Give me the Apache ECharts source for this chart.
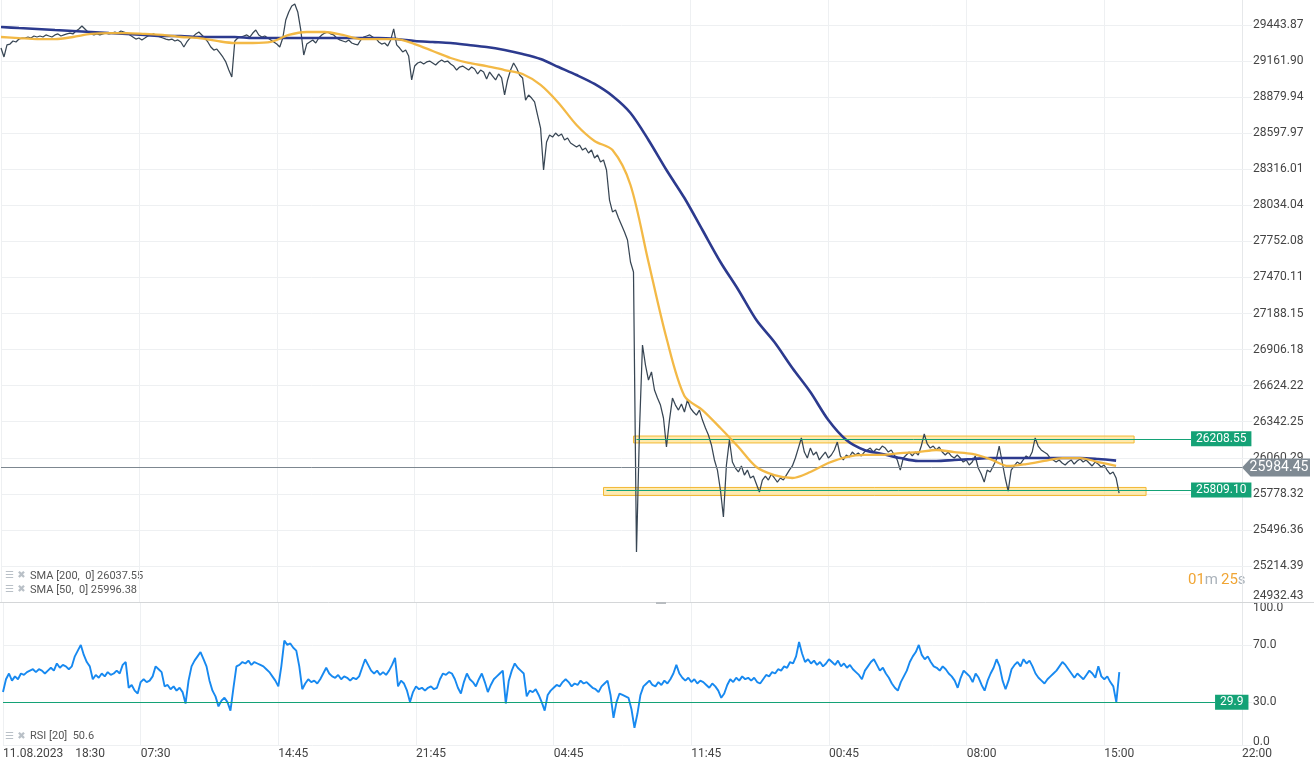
<!DOCTYPE html>
<html><head><meta charset="utf-8">
<script src="https://cdn.jsdelivr.net/npm/echarts@6/dist/echarts.min.js"></script>
<style>html,body{margin:0;padding:0;background:#fff}#c{width:1314px;height:770px}</style>
</head><body><div id="c"></div>
<script>
// ---- tick labels ----
const priceTicks = [24932.43,25214.39,25496.36,25778.32,26060.29,26342.25,26624.22,26906.18,27188.15,27470.11,27752.08,28034.04,28316.01,28597.97,28879.94,29161.90,29443.87];
const rsiTicks = [0,30,70,100];
const xTickLabels = ['11.08.2023    18:30','07:30','14:45','21:45','04:45','11:45','00:45','08:00','15:00','22:00'];
const barsPerTick = 46;
const barCount = 415;
const smaStep = 6;

// ---- price (close, one value per bar) ----
const price = [29264,29194,29288,29295,29319,29311,29334,29342,29342,29350,
29342,29358,29350,29358,29350,29366,29358,29350,29366,29374,
29358,29366,29374,29381,29374,29397,29413,29436,29413,29389,
29374,29366,29374,29366,29374,29381,29374,29381,29389,29381,
29397,29389,29381,29366,29350,29334,29342,29327,29342,29358,
29366,29374,29358,29350,29342,29334,29327,29334,29319,29327,
29311,29272,29311,29342,29350,29374,29389,29366,29342,29311,
29272,29248,29256,29225,29194,29155,29092,29037,29319,29342,
29350,29358,29366,29350,29381,29405,29366,29350,29358,29342,
29327,29311,29295,29272,29342,29483,29546,29592,29608,29546,
29405,29209,29295,29311,29327,29303,29342,29366,29381,29389,
29374,29366,29342,29327,29319,29311,29327,29303,29295,29288,
29327,29350,29358,29366,29350,29342,29311,29295,29303,29280,
29327,29413,29288,29264,29233,29248,29201,29014,29123,29147,
29155,29139,29155,29162,29147,29131,29155,29170,29155,29162,
29139,29123,29092,29115,29123,29108,29092,29115,29100,29061,
29092,29076,29022,29076,29045,29014,29061,29030,28897,29014,
29092,29147,29108,29053,29030,28857,28897,28873,28842,28740,
28638,28310,28529,28584,28568,28599,28576,28592,28545,28560,
28521,28506,28490,28506,28466,28482,28443,28466,28404,28427,
28373,28388,28310,28075,27982,27997,27935,27880,27825,27763,
27591,27513,25323,26277,26942,26785,26668,26731,26590,26527,
26472,26371,26144,26355,26527,26472,26433,26480,26418,26512,
26449,26418,26394,26433,26355,26293,26238,26160,26043,25964,
25808,25597,26004,26199,26027,25980,25949,25996,25925,25964,
25902,25917,25855,25792,25886,25917,25886,25933,25902,25870,
25902,25886,25925,25964,25996,26058,26136,26215,26105,26058,
26136,26082,26105,26043,26074,26105,26058,26082,26121,26183,
26074,26043,26082,26066,26105,26082,26097,26074,26105,26121,
26136,26105,26129,26121,26152,26136,26105,26121,26082,26043,
25964,26058,26082,26105,26074,26105,26082,26152,26246,26168,
26136,26152,26121,26144,26105,26082,26105,26074,26058,26082,
26058,26027,26043,26004,26027,26074,25980,25933,25870,25964,
25949,25996,26043,26152,26027,25902,25800,25964,25996,26027,
26011,26043,26074,26058,26105,26215,26152,26121,26105,26090,
26058,26043,26027,26043,26019,26004,26027,26043,26011,26035,
26050,26027,26043,26019,25996,26027,26011,25988,26004,25964,
25933,25949,25902,25784];

// ---- SMA 200 / SMA 50 (one value every 6 bars) ----
const sma200 = [29428,29420,29413,29405,29397,29389,29381,29374,29366,29358,
29358,29350,29350,29350,29342,29342,29342,29342,29342,29342,
29342,29342,29334,29319,29311,29303,29288,29272,29248,29217,
29178,29115,29053,28983,28889,28756,28545,28310,28091,27841,
27591,27372,27137,26965,26762,26574,26355,26199,26121,26090,
26058,26035,26035,26043,26050,26058,26058,26058,26058,26058,
26058,26050,26037.55];
const sma50 = [29350,29342,29334,29334,29350,29374,29381,29381,29374,29366,
29350,29342,29319,29303,29303,29311,29366,29389,29389,29366,
29334,29334,29334,29295,29241,29186,29147,29123,29092,29061,
28975,28834,28662,28537,28466,28193,27591,26996,26543,26433,
26293,26144,25988,25925,25902,25949,26019,26066,26082,26082,
26097,26105,26121,26105,26090,26050,25996,26011,26035,26058,
26058,26027,25996.38];

// ---- RSI(20), one value per bar ----
const rsi = [37,46,50,45,48,46,50,49,51,52,
53,51,53,52,50,52,54,52,57,54,
56,55,53,55,62,66,70,63,58,55,
46,49,47,50,48,51,49,50,52,50,
56,58,40,42,38,36,44,46,44,45,
48,55,53,51,41,42,39,41,38,40,
37,29,45,55,59,62,65,60,55,45,
38,34,27,31,33,30,24,40,55,56,
58,57,59,56,58,57,56,55,53,51,
48,45,41,55,73,70,71,68,66,55,
39,43,46,44,45,43,46,50,54,50,
48,47,49,46,48,47,45,47,46,48,
54,60,56,52,50,52,49,51,49,52,
56,61,41,45,43,38,30,37,41,39,
40,38,40,41,39,40,46,50,49,51,
50,46,40,36,44,50,46,44,41,46,
50,44,37,42,46,48,50,52,29,45,
52,57,54,52,50,34,38,37,39,35,
30,24,35,38,40,42,41,44,46,44,
41,43,42,45,43,44,42,40,39,37,
41,43,45,35,19,30,36,35,34,33,
25,12,22,35,41,43,45,42,41,44,
42,45,43,46,50,56,50,47,45,47,
44,46,43,45,44,42,40,43,41,38,
33,36,42,46,44,47,45,48,46,47,
45,47,44,43,46,49,48,51,50,53,
52,55,54,58,57,62,72,64,58,60,
57,59,56,58,55,57,60,58,56,59,
55,57,54,56,53,51,49,46,52,55,
58,60,56,52,54,50,47,43,40,38,
44,48,52,58,62,65,70,63,60,62,
58,55,54,52,55,53,50,48,45,40,
47,52,50,48,44,50,47,42,38,45,
50,54,60,55,45,39,45,53,56,58,
55,60,57,59,55,50,47,45,43,46,
48,50,52,55,58,56,53,50,47,50,
48,46,49,52,50,47,55,48,46,48,
44,41,30,51];

// ---- levels / zones ----
const levelValues = [26208.55, 25809.10];
const levelStartBar = [212, 202];
const levelEndBar = [397, 397];
const zoneStartBar = [211, 201];
const zoneEndBar = [378, 382];
const zoneHigh = [26230, 25828];
const zoneLow = [26176, 25765];
const lastPrice = 25984.45;
const rsiLevel = 29.9;
const rsiLevelEndBar = 405;
const legendTexts = ['SMA [200,  0] 26037.55', 'SMA [50,  0] 25996.38', 'RSI [20]  50.6'];

const cats = Array.from({length: barCount}, (_, i) => String(i));
const green = '#14a276';
const gridColor = '#eef0f2';
const isTick = (i) => i % barsPerTick === 0;
const levelLine = {color: green, width: 1, type: 'solid'};

const chart = echarts.init(document.getElementById('c'), null, {renderer: 'canvas'});
const option = {
  animation: false,
  backgroundColor: '#fff',
  textStyle: {fontFamily: 'Roboto'},
  grid: [
    {left: 1, right: 72, top: 0, height: 602},
    {left: 1, right: 72, top: 602, height: 143}
  ],
  xAxis: [
    {type: 'category', gridIndex: 0, data: cats, boundaryGap: false,
     axisLine: {show: false}, axisTick: {show: false}, axisLabel: {show: false},
     splitLine: {show: true, interval: isTick, lineStyle: {color: gridColor, width: 1}}},
    {type: 'category', gridIndex: 1, data: cats, boundaryGap: false,
     axisLine: {show: false}, axisTick: {show: false},
     axisLabel: {show: true, interval: isTick, align: 'left', margin: 3, color: '#444', fontSize: 12, fontFamily: 'Roboto',
       formatter: (v, i) => (isTick(i) ? xTickLabels[i / barsPerTick] : '')},
     splitLine: {show: true, interval: isTick, lineStyle: {color: gridColor, width: 1}}}
  ],
  yAxis: [
    {type: 'value', gridIndex: 0, position: 'right', min: 24932.43, max: 29639.35,
     axisLine: {show: true, lineStyle: {color: '#e6e8ea'}},
     axisTick: {show: true, length: 10, customValues: priceTicks, lineStyle: {color: gridColor}},
     axisLabel: {customValues: priceTicks, margin: 11, color: '#444', fontSize: 12, fontFamily: 'Roboto',
       formatter: (v) => (Math.abs(v - priceTicks[0]) < 0.001 ? '{lo|' + v.toFixed(2) + '}' : v.toFixed(2)),
       rich: {lo: {padding: [0, 0, 12, 0], color: '#444', fontSize: 12, fontFamily: 'Roboto'}}},
     splitLine: {show: true, lineStyle: {color: gridColor}}},
    {type: 'value', gridIndex: 1, position: 'right', min: 0, max: 100,
     axisLine: {show: true, lineStyle: {color: '#e6e8ea'}},
     axisTick: {show: true, length: 10, customValues: rsiTicks, lineStyle: {color: gridColor}},
     axisLabel: {customValues: rsiTicks, margin: 11, color: '#444', fontSize: 12, fontFamily: 'Roboto',
       formatter: (v) => (v === 100 ? '{top|100.0}' : v === 0 ? '{bot|0.0}' : v.toFixed(1)),
       rich: {top: {padding: [12, 0, 0, 0], color: '#444', fontSize: 12, fontFamily: 'Roboto'},
              bot: {padding: [0, 0, 6, 0], color: '#444', fontSize: 12, fontFamily: 'Roboto'}}},
     splitLine: {show: true, lineStyle: {color: gridColor}}}
  ],
  series: [
    {name: 'price', type: 'line', xAxisIndex: 0, yAxisIndex: 0, data: price, showSymbol: false, symbol: 'none',
     sampling: null, lineStyle: {color: '#384654', width: 1.25}, z: 3,
     markArea: {silent: true, z: 1,
       itemStyle: {color: 'rgba(253,216,110,0.55)', borderColor: '#f2b935', borderWidth: 1},
       data: levelValues.map((lv, k) => [{xAxis: zoneStartBar[k], yAxis: zoneHigh[k]}, {xAxis: zoneEndBar[k], yAxis: zoneLow[k]}])},
     markLine: {silent: true, symbol: ['none', 'none'], animation: false,
       lineStyle: levelLine,
       label: {show: true, position: 'end', distance: 0, backgroundColor: green, color: '#fff', padding: [2, 5, 1, 5], fontSize: 12, fontFamily: 'Roboto'},
       data: levelValues.map((lv, k) => [
         {coord: [levelStartBar[k], lv], lineStyle: levelLine, label: {formatter: lv.toFixed(2)}},
         {coord: [levelEndBar[k], lv], lineStyle: levelLine}
       ]).concat([[{coord: [0, lastPrice], lineStyle: {color: '#7d8790', width: 1, type: 'solid'}, label: {show: false}},
                   {coord: [barCount - 1, lastPrice], lineStyle: {color: '#7d8790', width: 1, type: 'solid'}, label: {show: false}}]])
     },
     markPoint: {silent: true, animation: false,
       data: [{coord: [barCount - 1, lastPrice], symbol: 'path://M0,9L9,0L72,0L72,18L9,18Z', symbolSize: [68, 18], symbolOffset: [34, 0],
         symbolKeepAspect: false, itemStyle: {color: '#7f8a93'},
         label: {show: true, position: 'inside', formatter: lastPrice.toFixed(2), color: '#fff', fontSize: 14, fontFamily: 'Roboto', offset: [3, 0]}}]}
    },
    {name: 'SMA 200', type: 'line', xAxisIndex: 0, yAxisIndex: 0, data: sma200.map((v, k) => [k * smaStep, v]),
     showSymbol: false, symbol: 'none', smooth: 0.3, lineStyle: {color: '#2c3a8e', width: 2.6}, z: 4},
    {name: 'SMA 50', type: 'line', xAxisIndex: 0, yAxisIndex: 0, data: sma50.map((v, k) => [k * smaStep, v]),
     showSymbol: false, symbol: 'none', smooth: 0.3, lineStyle: {color: '#f2b53c', width: 2.3, opacity: 0.95}, z: 5},
    {name: 'RSI', type: 'line', xAxisIndex: 1, yAxisIndex: 1, data: rsi, showSymbol: false, symbol: 'none',
     lineStyle: {color: '#1789f0', width: 1.9}, z: 4,
     markLine: {silent: true, symbol: ['none', 'none'], animation: false,
       lineStyle: {color: green, width: 1.2, type: 'solid'},
       label: {show: true, position: 'end', distance: 0, backgroundColor: green, color: '#fff', padding: [2, 5, 1, 5], fontSize: 12, fontFamily: 'Roboto', formatter: rsiLevel.toFixed(1)},
       data: [[{coord: [0, rsiLevel]}, {coord: [rsiLevelEndBar, rsiLevel]}]]}}
  ],
  graphic: [
    {type: 'line', shape: {x1: 0, y1: 602.5, x2: 1314, y2: 602.5}, style: {stroke: '#d4d6d8', lineWidth: 1}, z: 10},
    {type: 'rect', shape: {x: 656, y: 602, width: 10, height: 2}, style: {fill: '#b8bcc0'}, z: 11},
    {type: 'text', left: 5, top: 570, style: {text: '☰ ✖', fill: '#b9c0c7', fontSize: 10, fontFamily: 'DejaVu Sans'}},
    {type: 'text', left: 5, top: 584, style: {text: '☰ ✖', fill: '#b9c0c7', fontSize: 10, fontFamily: 'DejaVu Sans'}},
    {type: 'text', left: 5, top: 731, style: {text: '☰ ✖', fill: '#b9c0c7', fontSize: 10, fontFamily: 'DejaVu Sans'}},
    {type: 'text', left: 30, top: 571, style: {text: legendTexts[0], fill: '#555', fontSize: 11, fontFamily: 'Roboto'}},
    {type: 'text', left: 30, top: 585, style: {text: legendTexts[1], fill: '#555', fontSize: 11, fontFamily: 'Roboto'}},
    {type: 'text', left: 30, top: 731, style: {text: legendTexts[2], fill: '#555', fontSize: 11, fontFamily: 'Roboto'}},
    {type: 'text', left: 1188, top: 573, style: {
      text: '{o|01}{g|m} {o|25}{g|s}', fontFamily: 'Roboto',
      rich: {o: {fill: '#f0a534', fontSize: 15, fontFamily: 'Roboto'}, g: {fill: '#aab2ba', fontSize: 15, fontFamily: 'Roboto'}}}}
  ]
};
chart.setOption(option);
</script>
</body></html>
